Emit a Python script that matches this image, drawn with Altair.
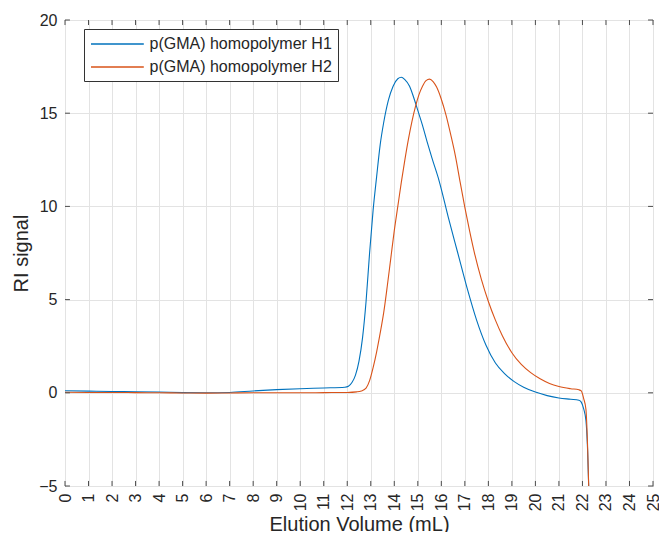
import altair as alt
import pandas as pd

# ---- data ----
h1_x = [0, 1, 2, 3, 4, 5, 6, 7, 8, 9, 10, 11, 11.9, 12.05, 12.2, 12.35, 12.5, 12.65, 12.8, 12.95,
        13.1, 13.25, 13.4, 13.55, 13.75, 13.95, 14.15, 14.3, 14.45, 14.65, 14.85, 15.0, 15.2, 15.4,
        15.6, 15.9, 16.3, 16.7, 17.1, 17.5, 17.9, 18.3, 18.7, 19.1, 19.5, 20.0, 20.5, 21.0, 21.5,
        21.85, 21.95, 22.05, 22.15, 22.22, 22.3]
h1_y = [0.11, 0.09, 0.07, 0.06, 0.04, 0.01, 0.0, 0.02, 0.1, 0.17, 0.22, 0.26, 0.3, 0.35, 0.55, 0.95,
        1.7, 2.95, 4.9, 7.5, 9.8, 11.6, 13.3, 14.5, 15.7, 16.45, 16.85, 16.93, 16.8, 16.45, 15.75,
        15.15, 14.35, 13.45, 12.6, 11.4, 9.4, 7.5, 5.6, 3.9, 2.55, 1.6, 1.02, 0.6, 0.3, 0.04, -0.15,
        -0.28, -0.35, -0.4, -0.5, -0.85, -1.5, -3.1, -6.5]

h2_x = [0, 1, 2, 3, 4, 5, 6, 7, 8, 9, 10, 11, 12, 12.4, 12.6, 12.8, 12.95, 13.1, 13.25, 13.4, 13.55,
        13.7, 13.85, 14.0, 14.15, 14.3, 14.45, 14.6, 14.75, 14.9, 15.05, 15.2, 15.35, 15.5, 15.65,
        15.8, 16.0, 16.2, 16.4, 16.6, 16.8, 17.0, 17.2, 17.4, 17.7, 18.0, 18.3, 18.6, 19.0, 19.4,
        19.8, 20.2, 20.6, 21.0, 21.5, 21.85, 21.95, 22.05, 22.15, 22.22, 22.3]
h2_y = [0.03, 0.02, 0.02, 0.01, 0.0, -0.01, -0.02, -0.01, 0.0, 0.0, 0.0, 0.01, 0.02, 0.05, 0.1, 0.25,
        0.65, 1.35, 2.2, 3.2, 4.3, 5.7, 7.2, 8.7, 10.0, 11.3, 12.5, 13.6, 14.55, 15.35, 16.0, 16.45,
        16.75, 16.83, 16.7, 16.4, 15.75, 14.9, 13.85, 12.7, 11.3, 9.95, 8.7, 7.55, 6.1, 4.9, 3.9,
        3.05, 2.15, 1.52, 1.08, 0.75, 0.5, 0.34, 0.22, 0.16, 0.1, -0.3, -0.9, -2.9, -6.5]

series_names = ["p(GMA) homopolymer H1", "p(GMA) homopolymer H2"]
series_colors = ["#0072BD", "#D95319"]

x_ticks = list(range(0, 26))
y_ticks = [-5, 0, 5, 10, 15, 20]

FONT = "Liberation Sans"
W, H = 588, 466

df = pd.concat([
    pd.DataFrame({"x": h1_x, "y": h1_y, "s": series_names[0], "o": range(len(h1_x))}),
    pd.DataFrame({"x": h2_x, "y": h2_y, "s": series_names[1], "o": range(len(h2_x))}),
])

xscale = alt.Scale(domain=[0, 25], nice=False)
yscale = alt.Scale(domain=[-5, 20], nice=False)

x_axis = alt.Axis(title="Elution Volume (mL)", values=x_ticks, tickCount=len(x_ticks),
                  labelAngle=270, labelPadding=7, ticks=False, domain=False, grid=True,
                  labelOverlap=False, labelFlush=False, labelBound=False, labelSeparation=0,
                  titleX=W / 2, titleY=44, titleBaseline="alphabetic")
y_axis = alt.Axis(title="RI signal", values=y_ticks, tickCount=len(y_ticks), labelPadding=8,
                  ticks=False, domain=False, grid=True, labelOverlap=False, labelFlush=False,
                  titleX=-38, titleY=H / 2, titleBaseline="alphabetic")

lines = alt.Chart(df).mark_line(strokeWidth=1.1, clip=True, interpolate="monotone").encode(
    x=alt.X("x:Q", scale=xscale, axis=x_axis, title="Elution Volume (mL)"),
    y=alt.Y("y:Q", scale=yscale, axis=y_axis, title="RI signal"),
    color=alt.Color("s:N", scale=alt.Scale(domain=series_names, range=series_colors),
                    legend=alt.Legend(title=None, orient="none", legendX=19, legendY=9)),
    order="o:Q",
)

tx = pd.DataFrame({"x": x_ticks})
ty = pd.DataFrame({"y": y_ticks})
tick_col = "#4d4d4d"
bottom_ticks = alt.Chart(tx).mark_rule(color=tick_col).encode(
    x=alt.X("x:Q", scale=xscale, axis=x_axis, title="Elution Volume (mL)"),
    y=alt.datum(-5), y2=alt.datum(-4.73))
top_ticks = alt.Chart(tx).mark_rule(color=tick_col).encode(
    x=alt.X("x:Q", scale=xscale, axis=x_axis, title="Elution Volume (mL)"),
    y=alt.datum(20), y2=alt.datum(19.73))
left_ticks = alt.Chart(ty).mark_rule(color=tick_col).encode(
    y=alt.Y("y:Q", scale=yscale, axis=y_axis, title="RI signal"),
    x=alt.datum(0), x2=alt.datum(0.21))
right_ticks = alt.Chart(ty).mark_rule(color=tick_col).encode(
    y=alt.Y("y:Q", scale=yscale, axis=y_axis, title="RI signal"),
    x=alt.datum(25), x2=alt.datum(24.79))

chart = alt.layer(lines, bottom_ticks, top_ticks, left_ticks, right_ticks).properties(
    width=W, height=H,
    autosize=alt.AutoSizeParams(type="none"),
    padding={"left": 57, "top": 12, "right": 6, "bottom": 46},
).configure_view(
    stroke="#4d4d4d", strokeWidth=1
).configure_axis(
    labelFont=FONT, labelFontSize=16, labelColor="#262626", labelOverlap=False,
    titleFont=FONT, titleFontSize=20, titleFontWeight="normal", titleColor="#262626",
    gridColor="#e3e3e3", gridWidth=1, gridOpacity=1,
).configure_legend(
    labelFont=FONT, labelFontSize=16, labelColor="#262626", labelOffset=41.5,
    labelLimit=400,
    symbolType="M-1,0H5.6", symbolSize=256, symbolStrokeWidth=1.3,
    padding=6, rowPadding=6, strokeColor="#333333", fillColor="white", cornerRadius=0,
)

chart.save("out.html", embed_options={"renderer": "svg", "actions": False})
